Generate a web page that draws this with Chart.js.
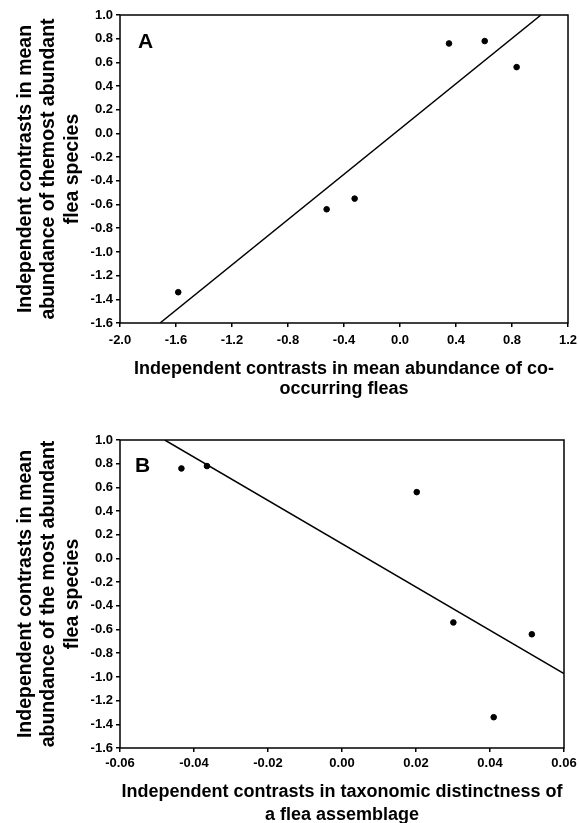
<!DOCTYPE html>
<html>
<head>
<meta charset="utf-8">
<script src="https://cdn.jsdelivr.net/npm/chart.js@4"></script>
<style>
  html, body { margin: 0; padding: 0; background: #fff; overflow: hidden; }
  canvas { position: absolute; left: 0; }
  #chartA { top: 0; }
  #chartB { top: 400px; }
</style>
</head>
<body>
<canvas id="chartA" width="579" height="400"></canvas>
<canvas id="chartB" width="579" height="430"></canvas>
<script>
// Panel A : co-occurring fleas
const abondanceCo = [-1.584, -0.524, -0.324, 0.35, 0.605, 0.833];
const abondanceA = [-1.34, -0.64, -0.55, 0.76, 0.78, 0.56];
const droiteAx = [-1.714, 1.007];
const droiteAy = [-1.6, 1.0];

// Panel B : taxonomic distinctness
const distinctness = [-0.0434, -0.0365, 0.0202, 0.0301, 0.041, 0.0513];
const abondanceB = [0.76, 0.78, 0.56, -0.54, -1.34, -0.64];
const droiteBx = [-0.0479, 0.06];
const droiteBy = [1.0, -0.972];

// ticks
const ticksXA = [-2.0, -1.6, -1.2, -0.8, -0.4, 0.0, 0.4, 0.8, 1.2];
const ticksXB = [-0.06, -0.04, -0.02, 0.00, 0.02, 0.04, 0.06];
const ticksY = [-1.6, -1.4, -1.2, -1.0, -0.8, -0.6, -0.4, -0.2, 0.0, 0.2, 0.4, 0.6, 0.8, 1.0];

const titreYA = ["Independent contrasts in mean", "abundance of themost abundant", "flea species"];
const titreYB = ["Independent contrasts in mean", "abundance of the most abundant", "flea species"];
const titreXA = ["Independent contrasts in mean abundance of co-", "occurring fleas"];
const titreXB = ["Independent contrasts in taxonomic distinctness of", "a flea assemblage"];

const police = "'Liberation Sans', Arial, sans-serif";

// cadre + lettre du panneau
const cadre = {
  id: 'cadre',
  afterDraw(chart, args, opts) {
    const { ctx, chartArea: a } = chart;
    ctx.save();
    ctx.strokeStyle = '#000';
    ctx.lineWidth = 1.5;
    ctx.strokeRect(a.left, a.top, a.right - a.left, a.bottom - a.top);
    ctx.fillStyle = '#000';
    ctx.font = "bold 21px " + police;
    ctx.textBaseline = 'alphabetic';
    ctx.fillText(opts.lettre, a.left + opts.dx, a.top + opts.dy);
    ctx.restore();
  }
};

function points(xs, ys) {
  return xs.map((x, i) => ({ x: x, y: ys[i] }));
}

function faireChart(id, cfg) {
  const ctx = document.getElementById(id).getContext('2d');
  return new Chart(ctx, {
    type: 'scatter',
    data: {
      datasets: [
        {
          data: points(cfg.xs, cfg.ys),
          backgroundColor: '#000',
          borderColor: '#000',
          pointRadius: 2.8,
          pointHoverRadius: 2.8
        },
        {
          data: points(cfg.lx, cfg.ly),
          showLine: true,
          borderColor: '#000',
          borderWidth: 1.5,
          pointRadius: 0,
          fill: false
        }
      ]
    },
    options: {
      responsive: false,
      animation: false,
      events: [],
      layout: { padding: cfg.padding },
      plugins: {
        legend: { display: false },
        tooltip: { enabled: false },
        cadre: cfg.lettre
      },
      scales: {
        x: {
          type: 'linear',
          min: cfg.xTicks[0],
          max: cfg.xTicks[cfg.xTicks.length - 1],
          afterBuildTicks: s => { s.ticks = cfg.xTicks.map(v => ({ value: v })); },
          afterFit: s => { s.height = cfg.hauteurX; s.paddingLeft = 0; s.paddingRight = 0; },
          border: { display: false },
          grid: { drawOnChartArea: false, drawTicks: true, tickLength: 4, color: '#000', lineWidth: 1.5 },
          ticks: {
            color: '#000',
            padding: cfg.padX,
            font: { family: police, size: 13, weight: 'bold' },
            callback: v => v.toFixed(cfg.decX)
          },
          title: {
            display: true,
            text: cfg.titreX,
            color: '#000',
            padding: { top: 0, bottom: cfg.padTitreX },
            font: { family: police, size: 18, weight: 'bold', lineHeight: cfg.lhX }
          }
        },
        y: {
          type: 'linear',
          min: -1.6,
          max: 1.0,
          afterBuildTicks: s => { s.ticks = ticksY.map(v => ({ value: v })); },
          afterFit: s => { s.width = 120; s.paddingTop = 0; s.paddingBottom = 0; },
          border: { display: false },
          grid: { drawOnChartArea: false, drawTicks: true, tickLength: 4, color: '#000', lineWidth: 1.5 },
          ticks: {
            color: '#000',
            padding: 3,
            font: { family: police, size: 13, weight: 'bold' },
            callback: v => v.toFixed(1)
          },
          title: {
            display: true,
            text: cfg.titreY,
            color: '#000',
            padding: { top: 14, bottom: 0 },
            font: { family: police, size: 19.5, weight: 'bold', lineHeight: 1.2 }
          }
        }
      }
    },
    plugins: [cadre]
  });
}

faireChart('chartA', {
  xs: abondanceCo, ys: abondanceA, lx: droiteAx, ly: droiteAy,
  xTicks: ticksXA, decX: 1,
  titreX: titreXA, titreY: titreYA,
  padding: { top: 15, right: 11, left: 0, bottom: 0 },
  hauteurX: 77, padX: 6, padTitreX: 1, lhX: 1.12,
  lettre: { lettre: 'A', dx: 18, dy: 33 }
});

faireChart('chartB', {
  xs: distinctness, ys: abondanceB, lx: droiteBx, ly: droiteBy,
  xTicks: ticksXB, decX: 2,
  titreX: titreXB, titreY: titreYB,
  padding: { top: 40, right: 15, left: 0, bottom: 0 },
  hauteurX: 82, padX: 4, padTitreX: 4, lhX: 1.25,
  lettre: { lettre: 'B', dx: 15, dy: 32 }
});
</script>
</body>
</html>
